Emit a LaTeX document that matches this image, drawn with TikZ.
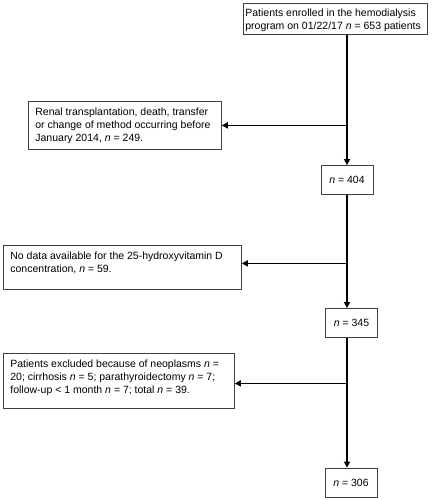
\documentclass[tikz,border=0pt]{standalone}
\usepackage{fontspec}
\setmainfont{Liberation Sans}
\usetikzlibrary{arrows.meta}

\tikzset{
  flowbox/.style={draw=black!75, line width=0.8pt, font=\fontsize{10.5}{13}\selectfont},
  notebox/.style={flowbox, anchor=north west, inner xsep=7pt, inner ysep=6.5pt},
  countbox/.style={flowbox, inner sep=0pt, minimum width=52pt, minimum height=29pt},
  trunk/.style={line width=1.6pt},
  trunkarrow/.style={trunk, -{Triangle[length=6pt,width=6pt]}}
}
% top-aligned text block of fixed size
\newcommand{\notetext}[3]{\parbox[c][#1][t]{#2}{\raggedright #3}}

\begin{document}
\begin{tikzpicture}[x=1pt, y=-1pt]
    \useasboundingbox (0,0) rectangle (431,500);

    \node[flowbox, anchor=north west, inner xsep=2pt, inner ysep=5pt] (enrolled) at (243,3)
        {\notetext{21pt}{180pt}{Patients enrolled in the hemodialysis\\
         program on 01/22/17 \textit{n} = 653 patients}};

    \node[notebox] (transplant) at (28,101)
        {\notetext{35pt}{179pt}{Renal transplantation, death, transfer\\
         or change of method occurring before\\
         January 2014, \textit{n} = 249.}};
    \node[countbox] (n404) at (347,180) {\textit{n} = 404};

    \node[notebox] (nodata) at (3,245)
        {\notetext{31pt}{224pt}{No data available for the 25-hydroxyvitamin D\\
         concentration, \textit{n} = 59.}};
    \node[countbox] (n345) at (351.5,323) {\textit{n} = 345};

    \node[notebox] (excluded) at (3,353)
        {\notetext{42pt}{217pt}{Patients excluded because of neoplasms \textit{n} =\\
         20; cirrhosis \textit{n} = 5; parathyroidectomy \textit{n} = 7;\\
         follow-up < 1 month \textit{n} = 7; total \textit{n} = 39.}};
    \node[countbox] (n306) at (351,482.5) {\textit{n} = 306};

    % main line
    \draw[trunkarrow] (enrolled.south -| n404.north) -- (n404.north);
    \draw[trunkarrow] (n404.south) -- (n404.south |- n345.north);
    \draw[trunkarrow] (n345.south -| n404.south) -- (n306.north -| n404.south);

    % exclusions
    \draw[trunkarrow] (transplant.east -| n404.north) -- (transplant.east);
    \draw[trunkarrow] ([yshift=4pt]nodata.east -| n404.north) -- ([yshift=4pt]nodata.east);
    \draw[trunkarrow] ([yshift=-2.5pt]excluded.east -| n404.north) -- ([yshift=-2.5pt]excluded.east);
\end{tikzpicture}
\end{document}
